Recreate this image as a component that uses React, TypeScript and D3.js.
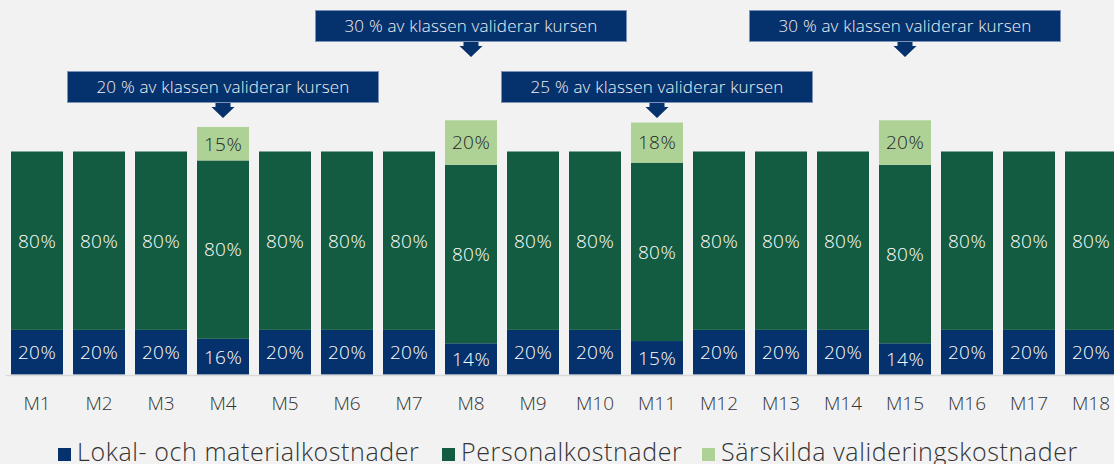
import React from 'react';
import * as d3 from 'd3';

const months = ['M1', 'M2', 'M3', 'M4', 'M5', 'M6', 'M7', 'M8', 'M9', 'M10', 'M11', 'M12', 'M13', 'M14', 'M15', 'M16', 'M17', 'M18'];
const lokal = [20, 20, 20, 16, 20, 20, 20, 14, 20, 20, 15, 20, 20, 20, 14, 20, 20, 20];
const personal = [80, 80, 80, 80, 80, 80, 80, 80, 80, 80, 80, 80, 80, 80, 80, 80, 80, 80];
const sarskilda = [0, 0, 0, 15, 0, 0, 0, 20, 0, 0, 18, 0, 0, 0, 20, 0, 0, 0];

const seriesNames = ['Lokal- och materialkostnader', 'Personalkostnader', 'Särskilda valideringskostnader'];
const seriesColors = ['#05316d', '#135c41', '#aed196'];
const labelColors = ['#ffffff', '#ffffff', '#262626'];

const annotationTexts = ['20 % av klassen validerar kursen', '30 % av klassen validerar kursen', '25 % av klassen validerar kursen', '30 % av klassen validerar kursen'];
const annotationMonths = ['M4', 'M8', 'M11', 'M15'];
const annotationRows = [1, 0, 1, 0];

const W = 1114;
const H = 464;
const FONT = "'Open Sans', 'Noto Sans', sans-serif";

export default function App() {
  const keys = ['lokal', 'personal', 'sarskilda'];
  const table = months.map((m, i) => ({ month: m, lokal: lokal[i], personal: personal[i], sarskilda: sarskilda[i] }));
  const stacked = d3.stack<any>().keys(keys)(table);

  // bands: step 62, bar 52, first bar at x=11
  const x = d3.scaleBand().domain(months).range([6, 6 + 18 * 62]).paddingInner(10 / 62).paddingOuter(5 / 62);
  const y = d3.scaleLinear().domain([0, 100]).range([374.5, 151.5]);

  const boxW = 311;
  const boxH = 31;
  const rowTop = [10, 71];

  return (
    <svg width={W} height={H} style={{ position: 'absolute', left: 0, top: 0, display: 'block' }} fontFamily={FONT}>
      <rect x={0} y={0} width={W} height={H} fill="#f2f2f2" />

      {stacked.map((s, si) => (
        <g key={s.key}>
          {s.map((d, i) => {
            const v = d[1] - d[0];
            if (!v) return null;
            const x0 = x(months[i])!;
            const top = y(d[1]);
            const bot = y(d[0]);
            return (
              <g key={i}>
                <rect x={x0} y={top} width={x.bandwidth()} height={bot - top} fill={seriesColors[si]} />
                <text x={x0 + x.bandwidth() / 2} y={(top + bot) / 2} dy="0.36em" textAnchor="middle" fontSize={19} fontWeight={300} letterSpacing={0.4} fill={labelColors[si]}>
                  {v}%
                </text>
              </g>
            );
          })}
        </g>
      ))}

      <line x1={6} x2={W} y1={375.5} y2={375.5} stroke="#d9d9d9" strokeWidth={1.5} />

      {months.map((m) => (
        <text key={m} x={x(m)! + x.bandwidth() / 2} y={410} textAnchor="middle" fontSize={19} fontWeight={300} fill="#333">
          {m}
        </text>
      ))}

      {annotationTexts.map((t, i) => {
        const cx = x(annotationMonths[i])! + x.bandwidth() / 2;
        const top = rowTop[annotationRows[i]];
        const bot = top + boxH;
        const arrow = d3.path();
        arrow.moveTo(cx - 7.5, bot);
        arrow.lineTo(cx + 7.5, bot);
        arrow.lineTo(cx + 7.5, bot + 5);
        arrow.lineTo(cx + 11.5, bot + 5);
        arrow.lineTo(cx, bot + 16);
        arrow.lineTo(cx - 11.5, bot + 5);
        arrow.lineTo(cx - 7.5, bot + 5);
        arrow.closePath();
        return (
          <g key={i}>
            <path d={arrow.toString()} fill="#05316d" />
            <rect x={cx - boxW / 2} y={top + 0.5} width={boxW} height={boxH} fill="#05316d" stroke="#7d92b8" strokeWidth={1} />
            <text x={cx} y={top + boxH / 2 + 0.5} dy="0.36em" textAnchor="middle" fontSize={17} fontWeight={300} letterSpacing={0.2} fill="#f2f2f2">
              {t}
            </text>
          </g>
        );
      })}

      {seriesNames.map((n, i) => {
        const lx = [58, 442, 702][i];
        return (
          <g key={n}>
            <rect x={lx} y={448} width={13} height={13} fill={seriesColors[i]} />
            <text x={lx + 19} y={461} fontSize={25} fontWeight={300} letterSpacing={0.6} fill="#333">
              {n}
            </text>
          </g>
        );
      })}
    </svg>
  );
}
